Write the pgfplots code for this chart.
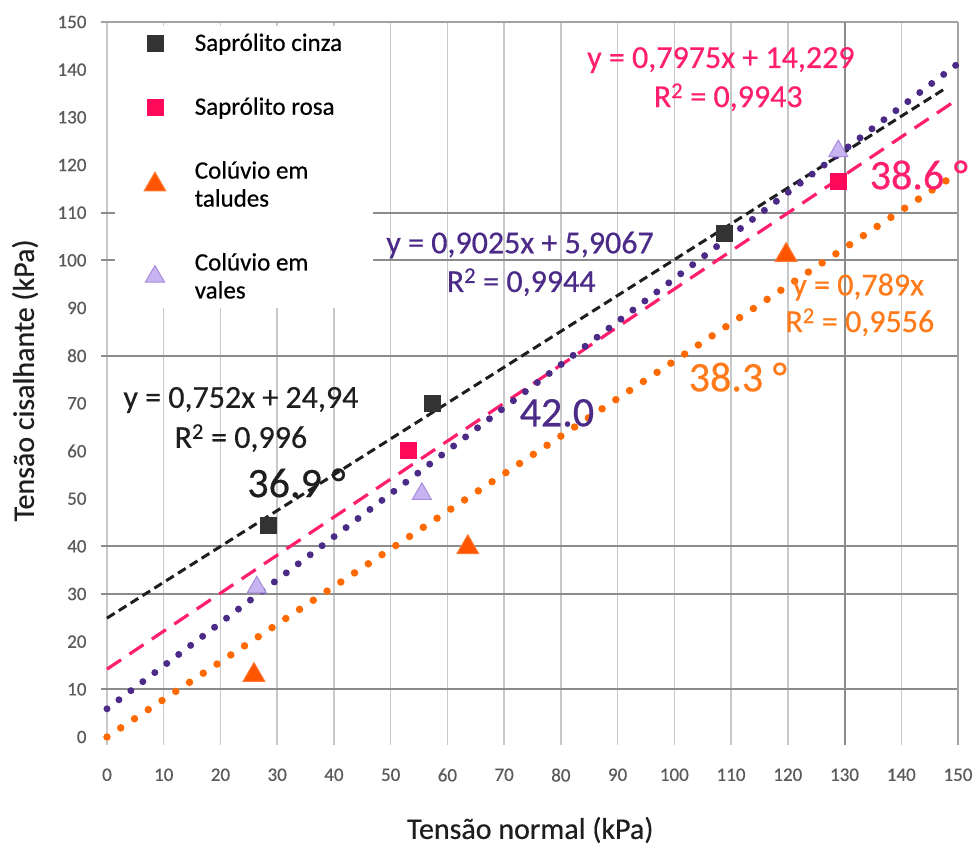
\documentclass[border=0pt]{standalone}
\usepackage{fontspec}
\setmainfont{Carlito}[FakeBold=0.5]
\usepackage{pgfplots}
\pgfplotsset{compat=1.18}
\definecolor{cinza}{HTML}{333333}
\definecolor{cinzaline}{HTML}{1E1E1E}
\definecolor{rosa}{HTML}{FF0A5A}
\definecolor{rosaline}{HTML}{FF1F6E}
\definecolor{laranja}{HTML}{FF5500}
\definecolor{laranjaedge}{HTML}{FF7A30}
\definecolor{laranjaline}{HTML}{FF6A00}
\definecolor{laranjatxt}{HTML}{FF7A1A}
\definecolor{lilas}{HTML}{C9B4F2}
\definecolor{lilasedge}{HTML}{A68CDC}
\definecolor{roxo}{HTML}{4B2A88}
\definecolor{gridv}{HTML}{C8C8C8}
\definecolor{gridh}{HTML}{8C8C8C}
\definecolor{ticklab}{HTML}{5A5A5A}
\begin{document}
\begin{tikzpicture}
\begin{axis}[
  width=851pt, height=715pt, scale only axis,
  xmin=0, xmax=150, ymin=0, ymax=150,
  clip=false,
  axis line style={draw=none},
  xtick={0,10,...,150}, ytick={0,10,...,150},
  xmajorgrids,
  major grid style={gridv, line width=1.5pt},
  tick align=outside, tick pos=left,
  major tick length=8pt,
  xtick style={gridv, line width=1.5pt},
  ytick style={draw=none},
  ticklabel style={font=\fontsize{19}{22}\selectfont, text=ticklab},
  /pgf/number format/assume math mode=true,
  xticklabel style={yshift=-20pt},
  yticklabel style={xshift=-9pt},
  legend cell align=left,
  legend style={at={(axis cs:1.4,149.3)}, anchor=north west, fill=white, draw=none,
    inner xsep=29pt, inner ysep=6pt, font=\fontsize{25}{28}\selectfont,
    row sep=41pt, column sep=27pt, cells={align=left}},
]
% background grid lines
\draw[gridh, line width=2pt] (axis cs:0,10) ++(-6pt,0) -- (axis cs:150,10);
\draw[gridh, line width=2pt] (axis cs:0,30) ++(-6pt,0) -- (axis cs:150,30);
\draw[gridh, line width=2pt] (axis cs:0,40) ++(-6pt,0) -- (axis cs:150,40);
\draw[gridh, line width=2pt] (axis cs:0,80) ++(-6pt,0) -- (axis cs:150,80);
\draw[gridh, line width=2pt] (axis cs:0,100) ++(-6pt,0) -- (axis cs:150,100);
\draw[gridh, line width=2pt] (axis cs:0,110) ++(-6pt,0) -- (axis cs:150,110);
\draw[gridh!80, line width=2.5pt] (axis cs:0,150) ++(-6pt,0) -- (axis cs:150,150);
\draw[gridh, line width=2pt] (axis cs:130,150) -- (axis cs:130,0) -- ++(0,-8pt);
\draw[gridh!80, line width=2pt] (axis cs:150,150) -- (axis cs:150,0) -- ++(0,-8pt);
% extent of picture
\path (rel axis cs:0,0) ++(-107pt,-109pt);
\path (rel axis cs:1,1) ++(19pt,22pt);

% data
\addplot[only marks, mark=square*, mark size=8pt, color=cinza] coordinates {(28.4,44.5)(57.3,70.0)(108.8,105.7)};
\addlegendentry{Saprólito cinza}
\addplot[only marks, mark=square*, mark size=8pt, color=rosa] coordinates {(53.1,60.2)(128.9,116.6)};
\addlegendentry{Saprólito rosa}
\addplot[only marks, mark=triangle*, mark size=12.5pt, mark options={fill=laranja, draw=laranjaedge, line width=1pt}] coordinates {(25.9,13.0)(63.6,39.8)(119.7,101.1)};
\addlegendentry{Colúvio em\\taludes}
\addplot[only marks, mark=triangle*, mark size=11pt, mark options={fill=lilas, draw=lilasedge, line width=1pt}] coordinates {(26.4,31.4)(55.5,51.0)(128.9,122.9)};
\addlegendentry{Colúvio em\\vales}

% trend lines
\addplot[forget plot, cinzaline, line width=3pt, dash pattern=on 9pt off 5pt] coordinates {(0,24.94)(148,136.24)};
\addplot[forget plot, rosaline, line width=3.2pt, dash pattern=on 17pt off 10pt] coordinates {(0,14.23)(150,133.85)};
\addplot[forget plot, roxo, line width=7pt, line cap=round, dash pattern=on 0pt off 15pt] coordinates {(0,5.91)(150,141.28)};
\addplot[forget plot, laranjaline, line width=7.5pt, line cap=round, dash pattern=on 0pt off 16.5pt] coordinates {(0,0)(150,118.35)};

% annotations
\node[text=rosaline, font=\fontsize{32}{36}\selectfont] at (axis cs:108.2,142.0) {y = 0,7975x + 14,229};
\node[text=rosaline, font=\fontsize{32}{36}\selectfont] at (axis cs:109.5,134.2) {R\textsuperscript{2} = 0,9943};
\node[text=roxo, font=\fontsize{32}{36}\selectfont] at (axis cs:72.8,103.2) {y = 0,9025x + 5,9067};
\node[text=roxo, font=\fontsize{32}{36}\selectfont] at (axis cs:73.0,95.4) {R\textsuperscript{2} = 0,9944};
\node[text=laranjatxt, font=\fontsize{32}{36}\selectfont] at (axis cs:132.4,94.4) {y = 0,789x};
\node[text=laranjatxt, font=\fontsize{32}{36}\selectfont] at (axis cs:132.7,87.0) {R\textsuperscript{2} = 0,9556};
\node[text=cinzaline, font=\fontsize{32}{36}\selectfont] at (axis cs:23.6,70.7) {y = 0,752x + 24,94};
\node[text=cinzaline, font=\fontsize{32}{36}\selectfont] at (axis cs:23.6,62.7) {R\textsuperscript{2} = 0,996};
\node[text=cinzaline, font=\fontsize{42}{46}\selectfont] at (axis cs:33.4,53.3) {36.9 °};
\node[text=roxo, font=\fontsize{42}{46}\selectfont] at (axis cs:79.3,68.0) {42.0};
\node[text=laranjatxt, font=\fontsize{42}{46}\selectfont] at (axis cs:111.2,75.5) {38.3 °};
\node[text=rosaline, font=\fontsize{42}{46}\selectfont] at (axis cs:143.1,117.9) {38.6 °};

% axis labels
\node[text=cinzaline, font=\fontsize{30}{34}\selectfont] at (axis cs:74.6,0) [yshift=-93pt] {Tensão normal (kPa)};
\node[text=cinzaline, font=\fontsize{30}{34}\selectfont, xshift=-82pt, rotate=90] at (axis cs:0,74.8) {Tensão cisalhante (kPa)};
\end{axis}
\end{tikzpicture}
\end{document}
